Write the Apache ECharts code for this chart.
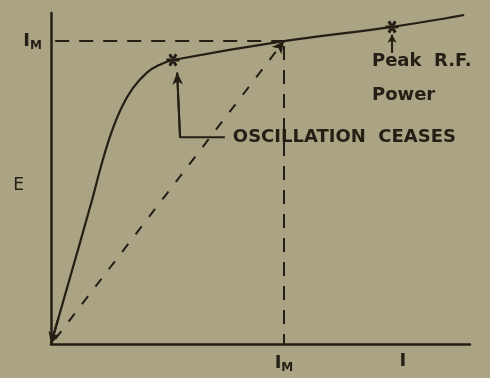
<!DOCTYPE html>
<html>
<head>
<meta charset="utf-8">
<script src="https://cdn.jsdelivr.net/npm/echarts@6/dist/echarts.min.js"></script>
<style>
  html, body { margin: 0; padding: 0; background: #aaa384; }
  #chart { width: 490px; height: 378px; }
</style>
</head>
<body>
<div id="chart"></div>
<script>
// Plate characteristic: current I against voltage E (normalised units 0-100)
const curveI = [0, 9.8, 12.0, 14.3, 16.8, 19.5, 22.9, 26.0, 29.1, 55.6, 81.4, 98.6];
const curveE = [0, 43.5, 54.0, 63.5, 71.3, 77.2, 82.0, 84.4, 85.8, 91.5, 95.8, 99.4];

// Point where the current reaches its maximum I_M
const peakCurrent = [55.6, 91.5];
// Point where oscillation ceases
const ceasePoint = [29.1, 85.8];
// Point of peak R.F. power
const rfPoint = [81.4, 95.8];

// Leader line for the "oscillation ceases" note
const noteI = [41.5, 30.8, 30.1];
const noteE = [62.5, 62.5, 82.0];

// Small arrow under the R.F. power mark
const rfArrowI = [81.4, 81.4];
const rfArrowE = [88.0, 93.4];

// Axis labels
const xLabelValues = [55.6, 84.0];
const xLabelTexts = ['{i|I}{m|M}', '{i|I}'];
const yLabelValues = [48.0, 91.5];
const yLabelTexts = ['{e|E}', '{i|I}{m|M}'];

const INK = '#231f15';
const FONT = '"DejaVu Sans", "Noto Sans", sans-serif';

const chart = echarts.init(document.getElementById('chart'), null, { renderer: 'canvas' });

const curveData = curveI.map((x, i) => [x, curveE[i]]);
const noteData = noteI.map((x, i) => [x, noteE[i]]);
const rfArrowData = rfArrowI.map((x, i) => [x, rfArrowE[i]]);

const asterisk = 'path://M-5,-1.1L5,-1.1L5,1.1L-5,1.1Z' +
  'M-3.5,-3.7L1.5,4.9L3.5,3.7L-1.5,-4.9Z' +
  'M1.5,-4.9L-3.5,3.7L-1.5,4.9L3.5,-3.7Z';

const richLabels = {
  i: { fontFamily: FONT, fontSize: 18, color: INK, fontWeight: 'bold' },
  m: { fontFamily: FONT, fontSize: 12, color: INK, fontWeight: 'bold', padding: [10, 0, 0, 0] },
  e: { fontFamily: FONT, fontSize: 17, color: INK, padding: [0, 18, 0, 0] }
};

// Free text placed in data coordinates
const textItems = [
  { value: [76.6, 85.4], text: 'Peak  R.F.' },
  { value: [76.6, 75.0], text: 'Power' },
  { value: [43.4, 62.5], text: 'OSCILLATION  CEASES' }
];

chart.setOption({
  backgroundColor: '#aaa384',
  animation: false,
  grid: { left: 51, top: 13, right: 20, bottom: 34 },
  xAxis: {
    type: 'value', min: 0, max: 100,
    axisLine: { show: true, lineStyle: { color: INK, width: 2.5 } },
    axisTick: { show: false }, splitLine: { show: false },
    axisLabel: {
      show: true, customValues: xLabelValues, margin: 8,
      formatter: v => xLabelTexts[xLabelValues.indexOf(v)] || '',
      rich: richLabels
    }
  },
  yAxis: {
    type: 'value', min: 0, max: 100,
    axisLine: { show: true, lineStyle: { color: INK, width: 2.5 } },
    axisTick: { show: false }, splitLine: { show: false },
    axisLabel: {
      show: true, customValues: yLabelValues, margin: 9,
      formatter: v => yLabelTexts[yLabelValues.indexOf(v)] || '',
      rich: richLabels
    }
  },
  series: [
    {
      name: 'curve', type: 'line', data: curveData, smooth: 0.4,
      symbol: 'none', lineStyle: { color: INK, width: 2.2 },
      markLine: {
        silent: true, symbol: ['none', 'arrow'], symbolSize: [9, 12],
        label: { show: false },
        lineStyle: { color: INK, width: 2.2, type: 'solid' },
        data: [
          [{ coord: [1.8, 8.0] }, { coord: [0, 0] }],
          // dashed load line from the origin to I_M
          [{ coord: [1.0, 1.5] }, { coord: peakCurrent, lineStyle: { type: [10, 12], width: 2 } }]
        ]
      }
    },
    {
      name: 'guides', type: 'line', data: [], symbol: 'none',
      markLine: {
        silent: true, symbol: ['none', 'none'], label: { show: false },
        lineStyle: { color: INK, width: 2, type: [14, 10] },
        data: [
          [{ coord: [1.0, peakCurrent[1]] }, { coord: [peakCurrent[0], peakCurrent[1]] }],
          [{ coord: [peakCurrent[0], peakCurrent[1] - 1.5] }, { coord: [peakCurrent[0], 0] }]
        ]
      }
    },
    {
      name: 'note', type: 'line', data: noteData, symbol: 'none',
      lineStyle: { color: INK, width: 2 },
      markLine: {
        silent: true, symbol: ['none', 'arrow'], symbolSize: [8, 12], label: { show: false },
        lineStyle: { color: INK, width: 2, type: 'solid' },
        data: [[{ coord: noteData[1] }, { coord: noteData[2] }]]
      }
    },
    {
      name: 'rfArrow', type: 'line', data: rfArrowData, symbol: 'none',
      lineStyle: { color: INK, width: 2 },
      markLine: {
        silent: true, symbol: ['none', 'arrow'], symbolSize: [7, 8], label: { show: false },
        lineStyle: { color: INK, width: 2, type: 'solid' },
        data: [[{ coord: rfArrowData[0] }, { coord: rfArrowData[1] }]]
      }
    },
    {
      name: 'marks', type: 'scatter', data: [ceasePoint, rfPoint],
      symbol: asterisk, symbolSize: 13,
      itemStyle: { color: INK, opacity: 1 }
    },
    {
      name: 'text', type: 'scatter', symbolSize: 0, silent: true,
      data: textItems.map(t => ({ value: t.value, text: t.text })),
      itemStyle: { color: INK, opacity: 1 },
      label: {
        show: true, position: 'right', distance: 0,
        formatter: p => p.data.text,
        fontFamily: FONT, fontSize: 18, fontWeight: 'bold', color: INK
      },
      labelLayout: { hideOverlap: false }
    }
  ]
});
</script>
</body>
</html>
